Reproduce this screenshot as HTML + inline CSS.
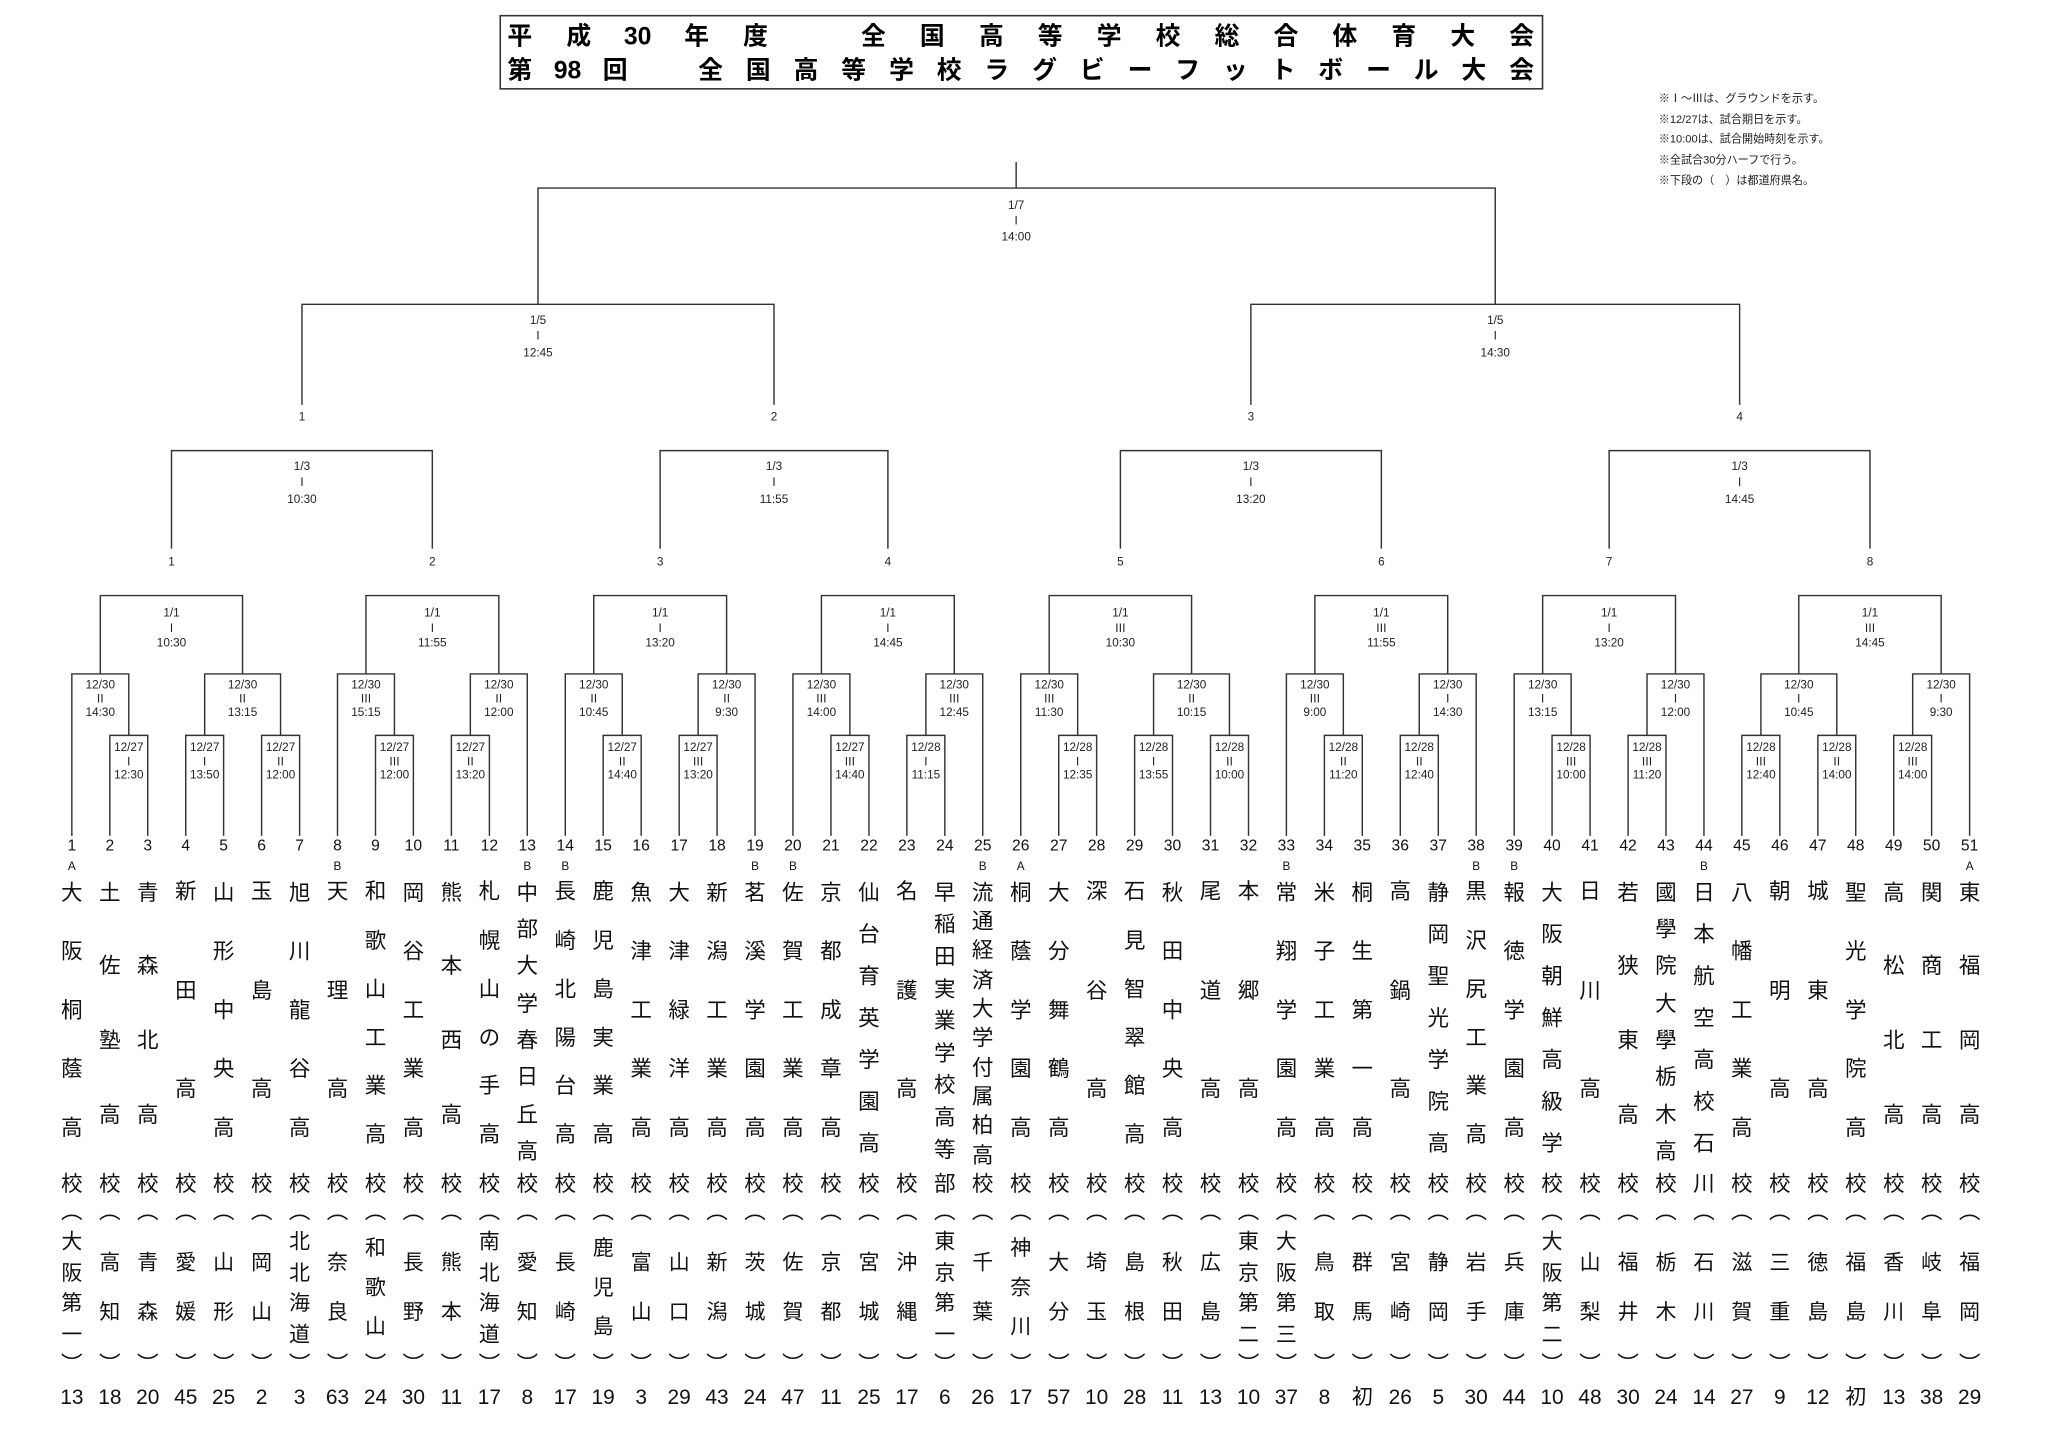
<!DOCTYPE html>
<html><head><meta charset="utf-8">
<style>
html,body{margin:0;padding:0;background:#fff;width:2048px;height:1448px;overflow:hidden}
#s{position:absolute;left:0;top:0;width:1568px;height:1109px;transform:scale(1.30612);transform-origin:0 0;font-family:"Liberation Sans","Noto Sans CJK JP",sans-serif;color:#111}
svg{position:absolute;left:0;top:0}
.lb text{font-family:"Liberation Sans Narrow","Liberation Sans","Noto Sans CJK JP",sans-serif;font-size:9px;fill:#222;text-anchor:middle}
.tt text{font-family:"Liberation Sans","Noto Sans CJK JP",sans-serif;font-weight:bold;font-size:19px;text-anchor:middle}
.t{position:absolute;top:0;width:0;height:0}
.t>*{position:absolute;width:40px;left:-20px;text-align:center;font-weight:normal;white-space:nowrap}
.i{top:640px;line-height:14px;font-size:12px;font-family:"Liberation Sans Narrow","Liberation Sans",sans-serif}
.a{top:658px;line-height:10px;font-size:9px}
.nm,.k,.pf,.o,.o2{font-family:"Liberation Sans","Noto Sans CJK JP",sans-serif;font-size:16.5px}
.n3{line-height:75.5px;top:646.25px}
.n4{line-height:56.67px;top:655.67px}
.n5{line-height:45px;top:661.5px}
.n6{line-height:37.2px;top:665.4px}
.n7{line-height:32px;top:668px}
.n8{line-height:28.29px;top:669.86px}
.n9{line-height:24.63px;top:671.7px}
.n10{line-height:22.33px;top:672.8px}
.k{top:897px;line-height:20px}
.o{top:918px;line-height:20px}
.o2{top:1035px;line-height:20px}
.q2{line-height:38px;top:949px;font-size:16px}
.q3{line-height:30px;top:942px;font-size:16px}
.q4{line-height:23.5px;top:940px;font-size:16px}
.r{top:1062px;line-height:18px;font-size:16px;font-family:"Liberation Sans Narrow","Liberation Sans","Noto Sans CJK JP",sans-serif}
</style></head><body>
<div id="s">
<svg width="1568" height="1109" viewBox="0 0 1568 1109">
<rect x="383" y="12" width="798" height="56" fill="none" stroke="#333" stroke-width="1.2"/>
<g class="tt">
<text x="398" y="34">平</text><text x="443.1" y="34">成</text><text x="488.2" y="34">30</text><text x="533.4" y="34">年</text><text x="578.5" y="34">度</text><text x="668.7" y="34">全</text><text x="713.8" y="34">国</text><text x="759" y="34">高</text><text x="804" y="34">等</text><text x="849.2" y="34">学</text><text x="894.3" y="34">校</text><text x="939.4" y="34">総</text><text x="984.6" y="34">合</text><text x="1029.7" y="34">体</text><text x="1074.8" y="34">育</text><text x="1119.9" y="34">大</text><text x="1165" y="34">会</text>
<text x="398" y="60">第</text><text x="434.5" y="60">98</text><text x="471" y="60">回</text><text x="544.1" y="60">全</text><text x="580.6" y="60">国</text><text x="617.1" y="60">高</text><text x="653.6" y="60">等</text><text x="690.2" y="60">学</text><text x="726.7" y="60">校</text><text x="763.2" y="60">ラ</text><text x="799.7" y="60">グ</text><text x="836.2" y="60">ビ</text><text x="872.8" y="60">ー</text><text x="909.3" y="60">フ</text><text x="945.8" y="60">ッ</text><text x="982.3" y="60">ト</text><text x="1018.8" y="60">ボ</text><text x="1055.4" y="60">ー</text><text x="1091.9" y="60">ル</text><text x="1128.4" y="60">大</text><text x="1165" y="60">会</text>
</g>
<g font-family="'Liberation Sans','Noto Sans CJK JP',sans-serif" font-size="8.5" fill="#222">
<text x="1270" y="78">※Ⅰ～Ⅲは、グラウンドを示す。</text>
<text x="1270" y="94">※12/27は、試合期日を示す。</text>
<text x="1270" y="109">※10:00は、試合開始時刻を示す。</text>
<text x="1270" y="125">※全試合30分ハーフで行う。</text>
<text x="1270" y="141">※下段の（　）は都道府県名。</text>
</g>
<g fill="none" stroke="#333" stroke-width="1.1">
<path d="M778 124V144M411.9 233V144H1144.8V233"/>
<path d="M231.2 310V233H592.6V310M957.7 310V233H1331.9V310"/>
<path d="M131.3 420V345H331V420M505.4 420V345H679.8V420M857.8 420V345H1057.6V420M1232 420V345H1431.7V420"/>
<path d="M76.8 516V456H185.7V516M280.2 516V456H381.9V516M454.6 516V456H556.3V516M628.9 516V456H730.6V516M803.3 516V456H912.3V516M1006.7 516V456H1108.4V516M1181.1 516V456H1282.8V516M1377.2 516V456H1486.2V516"/>
<path d="M55 640V516H98.6V563M156.7 563V516H214.8V563M258.4 640V516H302V563M360.1 563V516H403.7V640M432.8 640V516H476.4V563M534.5 563V516H578.1V640M607.1 640V516H650.7V563M708.9 563V516H752.4V640M781.5 640V516H825.1V563M883.2 563V516H941.3V563M984.9 640V516H1028.5V563M1086.6 563V516H1130.2V640M1159.3 640V516H1202.9V563M1261 563V516H1304.6V640M1348.2 563V516H1406.3V563M1464.4 563V516H1508V640"/>
<path d="M84.1 640V563H113.1V640M142.2 640V563H171.2V640M200.3 640V563H229.4V640M287.5 640V563H316.5V640M345.6 640V563H374.7V640M461.8 640V563H490.9V640M520 640V563H549V640M636.2 640V563H665.3V640M694.3 640V563H723.4V640M810.6 640V563H839.6V640M868.7 640V563H897.7V640M926.8 640V563H955.9V640M1014 640V563H1043V640M1072.1 640V563H1101.2V640M1188.3 640V563H1217.4V640M1246.5 640V563H1275.5V640M1333.6 640V563H1362.7V640M1391.8 640V563H1420.8V640M1449.9 640V563H1478.9V640"/>
</g>
<g class="lb">
<text x="778" y="160">1/7</text><text x="778" y="172">Ⅰ</text><text x="778" y="184">14:00</text>
<text x="411.9" y="248">1/5</text><text x="411.9" y="260">Ⅰ</text><text x="411.9" y="273">12:45</text>
<text x="1144.8" y="248">1/5</text><text x="1144.8" y="260">Ⅰ</text><text x="1144.8" y="273">14:30</text>
<g style="font-size:11px"><text x="231.2" y="322">1</text><text x="592.6" y="322">2</text><text x="957.7" y="322">3</text><text x="1331.9" y="322">4</text>
<text x="131.3" y="433">1</text><text x="331" y="433">2</text><text x="505.4" y="433">3</text><text x="679.8" y="433">4</text><text x="857.8" y="433">5</text><text x="1057.6" y="433">6</text><text x="1232" y="433">7</text><text x="1431.7" y="433">8</text></g>
<text x="231.2" y="360">1/3</text><text x="231.2" y="372">Ⅰ</text><text x="231.2" y="385">10:30</text>
<text x="592.6" y="360">1/3</text><text x="592.6" y="372">Ⅰ</text><text x="592.6" y="385">11:55</text>
<text x="957.7" y="360">1/3</text><text x="957.7" y="372">Ⅰ</text><text x="957.7" y="385">13:20</text>
<text x="1331.9" y="360">1/3</text><text x="1331.9" y="372">Ⅰ</text><text x="1331.9" y="385">14:45</text>
<text x="131.3" y="472">1/1</text><text x="131.3" y="484">Ⅰ</text><text x="131.3" y="495">10:30</text>
<text x="331" y="472">1/1</text><text x="331" y="484">Ⅰ</text><text x="331" y="495">11:55</text>
<text x="505.4" y="472">1/1</text><text x="505.4" y="484">Ⅰ</text><text x="505.4" y="495">13:20</text>
<text x="679.8" y="472">1/1</text><text x="679.8" y="484">Ⅰ</text><text x="679.8" y="495">14:45</text>
<text x="857.8" y="472">1/1</text><text x="857.8" y="484">Ⅲ</text><text x="857.8" y="495">10:30</text>
<text x="1057.6" y="472">1/1</text><text x="1057.6" y="484">Ⅲ</text><text x="1057.6" y="495">11:55</text>
<text x="1232" y="472">1/1</text><text x="1232" y="484">Ⅰ</text><text x="1232" y="495">13:20</text>
<text x="1431.7" y="472">1/1</text><text x="1431.7" y="484">Ⅲ</text><text x="1431.7" y="495">14:45</text>
<g style="font-size:8px">
<text x="76.8" y="527">12/30</text><text x="76.8" y="538">Ⅱ</text><text x="76.8" y="548">14:30</text>
<text x="185.7" y="527">12/30</text><text x="185.7" y="538">Ⅱ</text><text x="185.7" y="548">13:15</text>
<text x="280.2" y="527">12/30</text><text x="280.2" y="538">Ⅲ</text><text x="280.2" y="548">15:15</text>
<text x="381.9" y="527">12/30</text><text x="381.9" y="538">Ⅱ</text><text x="381.9" y="548">12:00</text>
<text x="454.6" y="527">12/30</text><text x="454.6" y="538">Ⅱ</text><text x="454.6" y="548">10:45</text>
<text x="556.3" y="527">12/30</text><text x="556.3" y="538">Ⅱ</text><text x="556.3" y="548">9:30</text>
<text x="628.9" y="527">12/30</text><text x="628.9" y="538">Ⅲ</text><text x="628.9" y="548">14:00</text>
<text x="730.6" y="527">12/30</text><text x="730.6" y="538">Ⅲ</text><text x="730.6" y="548">12:45</text>
<text x="803.3" y="527">12/30</text><text x="803.3" y="538">Ⅲ</text><text x="803.3" y="548">11:30</text>
<text x="912.3" y="527">12/30</text><text x="912.3" y="538">Ⅱ</text><text x="912.3" y="548">10:15</text>
<text x="1006.7" y="527">12/30</text><text x="1006.7" y="538">Ⅲ</text><text x="1006.7" y="548">9:00</text>
<text x="1108.4" y="527">12/30</text><text x="1108.4" y="538">Ⅰ</text><text x="1108.4" y="548">14:30</text>
<text x="1181.1" y="527">12/30</text><text x="1181.1" y="538">Ⅰ</text><text x="1181.1" y="548">13:15</text>
<text x="1282.8" y="527">12/30</text><text x="1282.8" y="538">Ⅰ</text><text x="1282.8" y="548">12:00</text>
<text x="1377.2" y="527">12/30</text><text x="1377.2" y="538">Ⅰ</text><text x="1377.2" y="548">10:45</text>
<text x="1486.2" y="527">12/30</text><text x="1486.2" y="538">Ⅰ</text><text x="1486.2" y="548">9:30</text>
<text x="98.6" y="575">12/27</text><text x="98.6" y="586">Ⅰ</text><text x="98.6" y="596">12:30</text>
<text x="156.7" y="575">12/27</text><text x="156.7" y="586">Ⅰ</text><text x="156.7" y="596">13:50</text>
<text x="214.8" y="575">12/27</text><text x="214.8" y="586">Ⅱ</text><text x="214.8" y="596">12:00</text>
<text x="302" y="575">12/27</text><text x="302" y="586">Ⅲ</text><text x="302" y="596">12:00</text>
<text x="360.1" y="575">12/27</text><text x="360.1" y="586">Ⅱ</text><text x="360.1" y="596">13:20</text>
<text x="476.4" y="575">12/27</text><text x="476.4" y="586">Ⅱ</text><text x="476.4" y="596">14:40</text>
<text x="534.5" y="575">12/27</text><text x="534.5" y="586">Ⅲ</text><text x="534.5" y="596">13:20</text>
<text x="650.7" y="575">12/27</text><text x="650.7" y="586">Ⅲ</text><text x="650.7" y="596">14:40</text>
<text x="708.9" y="575">12/28</text><text x="708.9" y="586">Ⅰ</text><text x="708.9" y="596">11:15</text>
<text x="825.1" y="575">12/28</text><text x="825.1" y="586">Ⅰ</text><text x="825.1" y="596">12:35</text>
<text x="883.2" y="575">12/28</text><text x="883.2" y="586">Ⅰ</text><text x="883.2" y="596">13:55</text>
<text x="941.3" y="575">12/28</text><text x="941.3" y="586">Ⅱ</text><text x="941.3" y="596">10:00</text>
<text x="1028.5" y="575">12/28</text><text x="1028.5" y="586">Ⅱ</text><text x="1028.5" y="596">11:20</text>
<text x="1086.6" y="575">12/28</text><text x="1086.6" y="586">Ⅱ</text><text x="1086.6" y="596">12:40</text>
<text x="1202.9" y="575">12/28</text><text x="1202.9" y="586">Ⅲ</text><text x="1202.9" y="596">10:00</text>
<text x="1261" y="575">12/28</text><text x="1261" y="586">Ⅲ</text><text x="1261" y="596">11:20</text>
<text x="1348.2" y="575">12/28</text><text x="1348.2" y="586">Ⅲ</text><text x="1348.2" y="596">12:40</text>
<text x="1406.3" y="575">12/28</text><text x="1406.3" y="586">Ⅱ</text><text x="1406.3" y="596">14:00</text>
<text x="1464.4" y="575">12/28</text><text x="1464.4" y="586">Ⅲ</text><text x="1464.4" y="596">14:00</text>
</g>
</g>
</svg>

<div class="t" style="left:55px"><b class="i">1</b><b class="a">A</b><div class="nm n5">大<br>阪<br>桐<br>蔭<br>高</div><b class="k">校</b><b class="o">︵</b><div class="pf q4">大<br>阪<br>第<br>一</div><b class="o2">︶</b><b class="r">13</b></div>
<div class="t" style="left:84.1px"><b class="i">2</b><div class="nm n4">土<br>佐<br>塾<br>高</div><b class="k">校</b><b class="o">︵</b><div class="pf q2">高<br>知</div><b class="o2">︶</b><b class="r">18</b></div>
<div class="t" style="left:113.1px"><b class="i">3</b><div class="nm n4">青<br>森<br>北<br>高</div><b class="k">校</b><b class="o">︵</b><div class="pf q2">青<br>森</div><b class="o2">︶</b><b class="r">20</b></div>
<div class="t" style="left:142.2px"><b class="i">4</b><div class="nm n3">新<br>田<br>高</div><b class="k">校</b><b class="o">︵</b><div class="pf q2">愛<br>媛</div><b class="o2">︶</b><b class="r">45</b></div>
<div class="t" style="left:171.2px"><b class="i">5</b><div class="nm n5">山<br>形<br>中<br>央<br>高</div><b class="k">校</b><b class="o">︵</b><div class="pf q2">山<br>形</div><b class="o2">︶</b><b class="r">25</b></div>
<div class="t" style="left:200.3px"><b class="i">6</b><div class="nm n3">玉<br>島<br>高</div><b class="k">校</b><b class="o">︵</b><div class="pf q2">岡<br>山</div><b class="o2">︶</b><b class="r">2</b></div>
<div class="t" style="left:229.4px"><b class="i">7</b><div class="nm n5">旭<br>川<br>龍<br>谷<br>高</div><b class="k">校</b><b class="o">︵</b><div class="pf q4">北<br>北<br>海<br>道</div><b class="o2">︶</b><b class="r">3</b></div>
<div class="t" style="left:258.4px"><b class="i">8</b><b class="a">B</b><div class="nm n3">天<br>理<br>高</div><b class="k">校</b><b class="o">︵</b><div class="pf q2">奈<br>良</div><b class="o2">︶</b><b class="r">63</b></div>
<div class="t" style="left:287.5px"><b class="i">9</b><div class="nm n6">和<br>歌<br>山<br>工<br>業<br>高</div><b class="k">校</b><b class="o">︵</b><div class="pf q3">和<br>歌<br>山</div><b class="o2">︶</b><b class="r">24</b></div>
<div class="t" style="left:316.5px"><b class="i">10</b><div class="nm n5">岡<br>谷<br>工<br>業<br>高</div><b class="k">校</b><b class="o">︵</b><div class="pf q2">長<br>野</div><b class="o2">︶</b><b class="r">30</b></div>
<div class="t" style="left:345.6px"><b class="i">11</b><div class="nm n4">熊<br>本<br>西<br>高</div><b class="k">校</b><b class="o">︵</b><div class="pf q2">熊<br>本</div><b class="o2">︶</b><b class="r">11</b></div>
<div class="t" style="left:374.7px"><b class="i">12</b><div class="nm n6">札<br>幌<br>山<br>の<br>手<br>高</div><b class="k">校</b><b class="o">︵</b><div class="pf q4">南<br>北<br>海<br>道</div><b class="o2">︶</b><b class="r">17</b></div>
<div class="t" style="left:403.7px"><b class="i">13</b><b class="a">B</b><div class="nm n8">中<br>部<br>大<br>学<br>春<br>日<br>丘<br>高</div><b class="k">校</b><b class="o">︵</b><div class="pf q2">愛<br>知</div><b class="o2">︶</b><b class="r">8</b></div>
<div class="t" style="left:432.8px"><b class="i">14</b><b class="a">B</b><div class="nm n6">長<br>崎<br>北<br>陽<br>台<br>高</div><b class="k">校</b><b class="o">︵</b><div class="pf q2">長<br>崎</div><b class="o2">︶</b><b class="r">17</b></div>
<div class="t" style="left:461.8px"><b class="i">15</b><div class="nm n6">鹿<br>児<br>島<br>実<br>業<br>高</div><b class="k">校</b><b class="o">︵</b><div class="pf q3">鹿<br>児<br>島</div><b class="o2">︶</b><b class="r">19</b></div>
<div class="t" style="left:490.9px"><b class="i">16</b><div class="nm n5">魚<br>津<br>工<br>業<br>高</div><b class="k">校</b><b class="o">︵</b><div class="pf q2">富<br>山</div><b class="o2">︶</b><b class="r">3</b></div>
<div class="t" style="left:520px"><b class="i">17</b><div class="nm n5">大<br>津<br>緑<br>洋<br>高</div><b class="k">校</b><b class="o">︵</b><div class="pf q2">山<br>口</div><b class="o2">︶</b><b class="r">29</b></div>
<div class="t" style="left:549px"><b class="i">18</b><div class="nm n5">新<br>潟<br>工<br>業<br>高</div><b class="k">校</b><b class="o">︵</b><div class="pf q2">新<br>潟</div><b class="o2">︶</b><b class="r">43</b></div>
<div class="t" style="left:578.1px"><b class="i">19</b><b class="a">B</b><div class="nm n5">茗<br>溪<br>学<br>園<br>高</div><b class="k">校</b><b class="o">︵</b><div class="pf q2">茨<br>城</div><b class="o2">︶</b><b class="r">24</b></div>
<div class="t" style="left:607.1px"><b class="i">20</b><b class="a">B</b><div class="nm n5">佐<br>賀<br>工<br>業<br>高</div><b class="k">校</b><b class="o">︵</b><div class="pf q2">佐<br>賀</div><b class="o2">︶</b><b class="r">47</b></div>
<div class="t" style="left:636.2px"><b class="i">21</b><div class="nm n5">京<br>都<br>成<br>章<br>高</div><b class="k">校</b><b class="o">︵</b><div class="pf q2">京<br>都</div><b class="o2">︶</b><b class="r">11</b></div>
<div class="t" style="left:665.3px"><b class="i">22</b><div class="nm n7">仙<br>台<br>育<br>英<br>学<br>園<br>高</div><b class="k">校</b><b class="o">︵</b><div class="pf q2">宮<br>城</div><b class="o2">︶</b><b class="r">25</b></div>
<div class="t" style="left:694.3px"><b class="i">23</b><div class="nm n3">名<br>護<br>高</div><b class="k">校</b><b class="o">︵</b><div class="pf q2">沖<br>縄</div><b class="o2">︶</b><b class="r">17</b></div>
<div class="t" style="left:723.4px"><b class="i">24</b><div class="nm n9">早<br>稲<br>田<br>実<br>業<br>学<br>校<br>高<br>等</div><b class="k">部</b><b class="o">︵</b><div class="pf q4">東<br>京<br>第<br>一</div><b class="o2">︶</b><b class="r">6</b></div>
<div class="t" style="left:752.4px"><b class="i">25</b><b class="a">B</b><div class="nm n10">流<br>通<br>経<br>済<br>大<br>学<br>付<br>属<br>柏<br>高</div><b class="k">校</b><b class="o">︵</b><div class="pf q2">千<br>葉</div><b class="o2">︶</b><b class="r">26</b></div>
<div class="t" style="left:781.5px"><b class="i">26</b><b class="a">A</b><div class="nm n5">桐<br>蔭<br>学<br>園<br>高</div><b class="k">校</b><b class="o">︵</b><div class="pf q3">神<br>奈<br>川</div><b class="o2">︶</b><b class="r">17</b></div>
<div class="t" style="left:810.6px"><b class="i">27</b><div class="nm n5">大<br>分<br>舞<br>鶴<br>高</div><b class="k">校</b><b class="o">︵</b><div class="pf q2">大<br>分</div><b class="o2">︶</b><b class="r">57</b></div>
<div class="t" style="left:839.6px"><b class="i">28</b><div class="nm n3">深<br>谷<br>高</div><b class="k">校</b><b class="o">︵</b><div class="pf q2">埼<br>玉</div><b class="o2">︶</b><b class="r">10</b></div>
<div class="t" style="left:868.7px"><b class="i">29</b><div class="nm n6">石<br>見<br>智<br>翠<br>館<br>高</div><b class="k">校</b><b class="o">︵</b><div class="pf q2">島<br>根</div><b class="o2">︶</b><b class="r">28</b></div>
<div class="t" style="left:897.7px"><b class="i">30</b><div class="nm n5">秋<br>田<br>中<br>央<br>高</div><b class="k">校</b><b class="o">︵</b><div class="pf q2">秋<br>田</div><b class="o2">︶</b><b class="r">11</b></div>
<div class="t" style="left:926.8px"><b class="i">31</b><div class="nm n3">尾<br>道<br>高</div><b class="k">校</b><b class="o">︵</b><div class="pf q2">広<br>島</div><b class="o2">︶</b><b class="r">13</b></div>
<div class="t" style="left:955.9px"><b class="i">32</b><div class="nm n3">本<br>郷<br>高</div><b class="k">校</b><b class="o">︵</b><div class="pf q4">東<br>京<br>第<br>二</div><b class="o2">︶</b><b class="r">10</b></div>
<div class="t" style="left:984.9px"><b class="i">33</b><b class="a">B</b><div class="nm n5">常<br>翔<br>学<br>園<br>高</div><b class="k">校</b><b class="o">︵</b><div class="pf q4">大<br>阪<br>第<br>三</div><b class="o2">︶</b><b class="r">37</b></div>
<div class="t" style="left:1014px"><b class="i">34</b><div class="nm n5">米<br>子<br>工<br>業<br>高</div><b class="k">校</b><b class="o">︵</b><div class="pf q2">鳥<br>取</div><b class="o2">︶</b><b class="r">8</b></div>
<div class="t" style="left:1043px"><b class="i">35</b><div class="nm n5">桐<br>生<br>第<br>一<br>高</div><b class="k">校</b><b class="o">︵</b><div class="pf q2">群<br>馬</div><b class="o2">︶</b><b class="r">初</b></div>
<div class="t" style="left:1072.1px"><b class="i">36</b><div class="nm n3">高<br>鍋<br>高</div><b class="k">校</b><b class="o">︵</b><div class="pf q2">宮<br>崎</div><b class="o2">︶</b><b class="r">26</b></div>
<div class="t" style="left:1101.2px"><b class="i">37</b><div class="nm n7">静<br>岡<br>聖<br>光<br>学<br>院<br>高</div><b class="k">校</b><b class="o">︵</b><div class="pf q2">静<br>岡</div><b class="o2">︶</b><b class="r">5</b></div>
<div class="t" style="left:1130.2px"><b class="i">38</b><b class="a">B</b><div class="nm n6">黒<br>沢<br>尻<br>工<br>業<br>高</div><b class="k">校</b><b class="o">︵</b><div class="pf q2">岩<br>手</div><b class="o2">︶</b><b class="r">30</b></div>
<div class="t" style="left:1159.3px"><b class="i">39</b><b class="a">B</b><div class="nm n5">報<br>徳<br>学<br>園<br>高</div><b class="k">校</b><b class="o">︵</b><div class="pf q2">兵<br>庫</div><b class="o2">︶</b><b class="r">44</b></div>
<div class="t" style="left:1188.3px"><b class="i">40</b><div class="nm n7">大<br>阪<br>朝<br>鮮<br>高<br>級<br>学</div><b class="k">校</b><b class="o">︵</b><div class="pf q4">大<br>阪<br>第<br>二</div><b class="o2">︶</b><b class="r">10</b></div>
<div class="t" style="left:1217.4px"><b class="i">41</b><div class="nm n3">日<br>川<br>高</div><b class="k">校</b><b class="o">︵</b><div class="pf q2">山<br>梨</div><b class="o2">︶</b><b class="r">48</b></div>
<div class="t" style="left:1246.5px"><b class="i">42</b><div class="nm n4">若<br>狭<br>東<br>高</div><b class="k">校</b><b class="o">︵</b><div class="pf q2">福<br>井</div><b class="o2">︶</b><b class="r">30</b></div>
<div class="t" style="left:1275.5px"><b class="i">43</b><div class="nm n8">國<br>學<br>院<br>大<br>學<br>栃<br>木<br>高</div><b class="k">校</b><b class="o">︵</b><div class="pf q2">栃<br>木</div><b class="o2">︶</b><b class="r">24</b></div>
<div class="t" style="left:1304.6px"><b class="i">44</b><b class="a">B</b><div class="nm n7">日<br>本<br>航<br>空<br>高<br>校<br>石</div><b class="k">川</b><b class="o">︵</b><div class="pf q2">石<br>川</div><b class="o2">︶</b><b class="r">14</b></div>
<div class="t" style="left:1333.6px"><b class="i">45</b><div class="nm n5">八<br>幡<br>工<br>業<br>高</div><b class="k">校</b><b class="o">︵</b><div class="pf q2">滋<br>賀</div><b class="o2">︶</b><b class="r">27</b></div>
<div class="t" style="left:1362.7px"><b class="i">46</b><div class="nm n3">朝<br>明<br>高</div><b class="k">校</b><b class="o">︵</b><div class="pf q2">三<br>重</div><b class="o2">︶</b><b class="r">9</b></div>
<div class="t" style="left:1391.8px"><b class="i">47</b><div class="nm n3">城<br>東<br>高</div><b class="k">校</b><b class="o">︵</b><div class="pf q2">徳<br>島</div><b class="o2">︶</b><b class="r">12</b></div>
<div class="t" style="left:1420.8px"><b class="i">48</b><div class="nm n5">聖<br>光<br>学<br>院<br>高</div><b class="k">校</b><b class="o">︵</b><div class="pf q2">福<br>島</div><b class="o2">︶</b><b class="r">初</b></div>
<div class="t" style="left:1449.9px"><b class="i">49</b><div class="nm n4">高<br>松<br>北<br>高</div><b class="k">校</b><b class="o">︵</b><div class="pf q2">香<br>川</div><b class="o2">︶</b><b class="r">13</b></div>
<div class="t" style="left:1478.9px"><b class="i">50</b><div class="nm n4">関<br>商<br>工<br>高</div><b class="k">校</b><b class="o">︵</b><div class="pf q2">岐<br>阜</div><b class="o2">︶</b><b class="r">38</b></div>
<div class="t" style="left:1508px"><b class="i">51</b><b class="a">A</b><div class="nm n4">東<br>福<br>岡<br>高</div><b class="k">校</b><b class="o">︵</b><div class="pf q2">福<br>岡</div><b class="o2">︶</b><b class="r">29</b></div>
</div>
</body></html>
